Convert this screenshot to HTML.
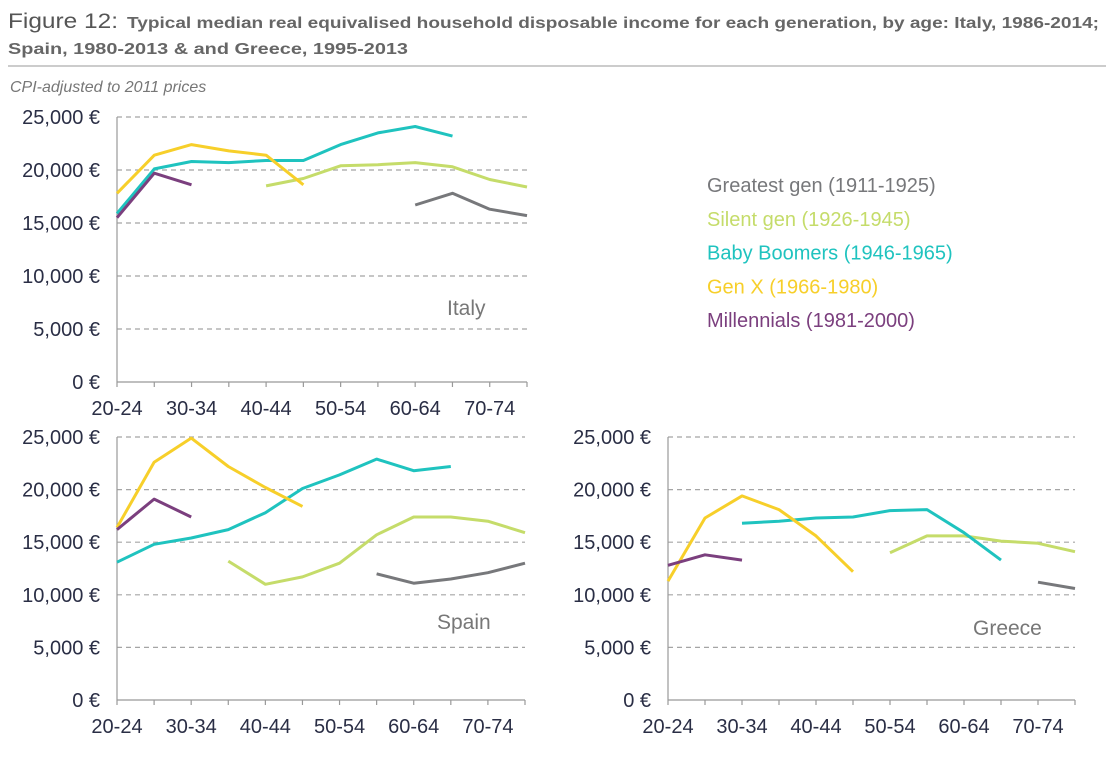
<!DOCTYPE html>
<html><head><meta charset="utf-8"><style>
body{margin:0;background:#fff;width:1116px;height:761px;overflow:hidden;font-family:"Liberation Sans",sans-serif}
</style></head><body>
<svg id="svg" width="1116" height="761" xmlns="http://www.w3.org/2000/svg">
<text x="8" y="28" font-size="21" fill="#555" textLength="110" lengthAdjust="spacingAndGlyphs">Figure 12:</text>
<text x="127" y="28" font-size="16" font-weight="bold" fill="#666" textLength="972" lengthAdjust="spacingAndGlyphs">Typical median real equivalised household disposable income for each generation, by age: Italy, 1986-2014;</text>
<text x="8" y="54" font-size="16" font-weight="bold" fill="#666" textLength="400" lengthAdjust="spacingAndGlyphs">Spain, 1980-2013 &amp; and Greece, 1995-2013</text>
<line x1="8" y1="66" x2="1106" y2="66" stroke="#999" stroke-width="1"/>
<text x="10" y="92" font-size="16" font-style="italic" fill="#777">CPI-adjusted to 2011 prices</text>
<g id="legend"></g>
</svg>
<script>
const ages = ["20-24","25-29","30-34","35-39","40-44","45-49","50-54","55-59","60-64","65-69","70-74","75-79"];
const yTicks = [0,5000,10000,15000,20000,25000];
const seriesNames = ["Greatest gen (1911-1925)","Silent gen (1926-1945)","Baby Boomers (1946-1965)","Gen X (1966-1980)","Millennials (1981-2000)"];
const seriesColors = ["#77787b","#c5dc6a","#1fc3bf","#f7cf2a","#7b3f7e"];
const N = null;
// values in thousands of euros, index = age group
const italyGreatest = [N,N,N,N,N,N,N,N,16.7,17.8,16.3,15.7];
const italySilent   = [N,N,N,N,18.5,19.2,20.4,20.5,20.7,20.3,19.1,18.4];
const italyBoomers  = [15.9,20.1,20.8,20.7,20.9,20.9,22.4,23.5,24.1,23.2,N,N];
const italyGenX     = [17.8,21.4,22.4,21.8,21.4,18.6,N,N,N,N,N,N];
const italyMill     = [15.5,19.7,18.6,N,N,N,N,N,N,N,N,N];
const spainGreatest = [N,N,N,N,N,N,N,12.0,11.1,11.5,12.1,13.0];
const spainSilent   = [N,N,N,13.2,11.0,11.7,13.0,15.7,17.4,17.4,17.0,15.9];
const spainBoomers  = [13.1,14.8,15.4,16.2,17.8,20.1,21.4,22.9,21.8,22.2,N,N];
const spainGenX     = [16.4,22.6,24.9,22.2,20.2,18.4,N,N,N,N,N,N];
const spainMill     = [16.2,19.1,17.4,N,N,N,N,N,N,N,N,N];
const greeceGreatest= [N,N,N,N,N,N,N,N,N,N,11.2,10.6];
const greeceSilent  = [N,N,N,N,N,N,14.0,15.6,15.6,15.1,14.9,14.1];
const greeceBoomers = [N,N,16.8,17.0,17.3,17.4,18.0,18.1,15.9,13.3,N,N];
const greeceGenX    = [11.3,17.3,19.4,18.1,15.6,12.2,N,N,N,N,N,N];
const greeceMill    = [12.8,13.8,13.3,N,N,N,N,N,N,N,N,N];

const NS="http://www.w3.org/2000/svg";
const svg=document.getElementById('svg');
function mk(tag,attrs,parent){const e=document.createElementNS(NS,tag);for(const k in attrs)e.setAttribute(k,attrs[k]);(parent||svg).appendChild(e);return e;}

const panels=[
 {name:"italy",label:"Italy",x0:117,x1:527,yTop:117,yBot:382,lx:447,ly:315,series:[italyGreatest,italySilent,italyBoomers,italyGenX,italyMill]},
 {name:"spain",label:"Spain",x0:117,x1:525,yTop:437,yBot:700,lx:437,ly:629,series:[spainGreatest,spainSilent,spainBoomers,spainGenX,spainMill]},
 {name:"greece",label:"Greece",x0:668,x1:1075,yTop:437,yBot:700,lx:973,ly:635,series:[greeceGreatest,greeceSilent,greeceBoomers,greeceGenX,greeceMill]}
];
panels.forEach(p=>{
  const g=mk('g',{});
  
  
  const xs=i=>p.x0+i*(p.x1-p.x0)/(ages.length-1);
  const ys=v=>p.yBot-(v/25000)*(p.yBot-p.yTop);
  yTicks.forEach(t=>{
    const y=ys(t);
    if(t>0){const l=mk('line',{x1:p.x0,x2:p.x1,y1:y,y2:y,stroke:'#a5a5a5','stroke-dasharray':'5,4','stroke-width':1.2},g);
      
      }
    const tx=mk('text',{x:p.x0-17,y:y+7,'text-anchor':'end','font-size':20,fill:'#2a2e45'},g);
    tx.textContent=t.toLocaleString('en-US')+' €';
    
    
  });
  const ax=mk('line',{x1:p.x0,x2:p.x0,y1:p.yTop,y2:p.yBot,stroke:'#999','stroke-width':1.2},g);
  
  
  const xa=mk('line',{x1:p.x0,x2:p.x1,y1:p.yBot,y2:p.yBot,stroke:'#999','stroke-width':1.2},g);
  
  
  ages.forEach((a,i)=>{
    const t=mk('line',{x1:xs(i),x2:xs(i),y1:p.yBot,y2:p.yBot+5,stroke:'#999','stroke-width':1.2},g);
    
    
    if(i%2===0){const tx=mk('text',{x:xs(i),y:p.yBot+33,'text-anchor':'middle','font-size':20,fill:'#2a2e45'},g);
      tx.textContent=a;
      
      }
  });
  p.series.forEach((s,si)=>{
    let d='';let pen=false;
    s.forEach((v,i)=>{if(v===null){pen=false;return;}d+=(pen?'L':'M')+xs(i).toFixed(1)+','+ys(v*1000).toFixed(1);pen=true;});
    const path=mk('path',{d:d,fill:'none',stroke:seriesColors[si],'stroke-width':3,'stroke-linejoin':'round'},g);
    
    
  });
  const lb=mk('text',{x:p.lx,y:p.ly,'font-size':21,fill:'#777'},g);
  lb.textContent=p.label;
  
  
});
const lg=document.getElementById('legend');
seriesNames.forEach((n,i)=>{
  const t=mk('text',{x:707,y:192+i*33.8,'font-size':20,fill:seriesColors[i]},lg);
  t.textContent=n;
  
  
});
</script>
</body></html>
